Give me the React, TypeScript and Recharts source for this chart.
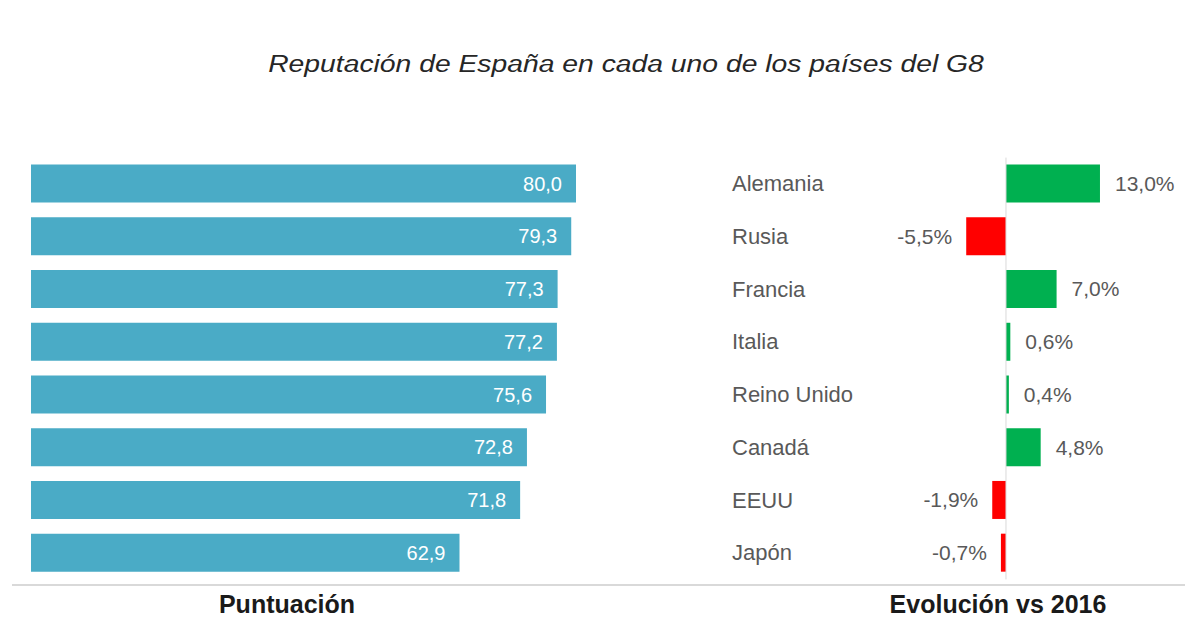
import React from 'react';
import { BarChart, Bar, XAxis, YAxis, Cell, LabelList, ReferenceLine } from 'recharts';

const countries = ['Alemania', 'Rusia', 'Francia', 'Italia', 'Reino Unido', 'Canadá', 'EEUU', 'Japón'];
const scores = [80.0, 79.3, 77.3, 77.2, 75.6, 72.8, 71.8, 62.9];
const changes = [13.0, -5.5, 7.0, 0.6, 0.4, 4.8, -1.9, -0.7];

const FONT = '"Liberation Sans", Arial, sans-serif';
const GREY = '#595959';

const fmt = (v: number) => v.toFixed(1).replace('.', ',');

const scoreData = countries.map((name, i) => ({ name, value: scores[i] }));
const changeData = countries.map((name, i) => ({ name, value: changes[i] }));

// country names sit in a fixed column left of the zero line
const CountryLabel = ({ y, height, value }: any) => (
  <text x={732} y={y + height / 2} dy="0.35em" textAnchor="start" fill={GREY} fontSize={22} fontFamily={FONT}>
    {value}
  </text>
);

const ChangeLabel = ({ x, y, width, height, value }: any) => {
  const left = Math.min(x, x + width);
  const right = Math.max(x, x + width);
  const neg = value < 0;
  return (
    <text
      x={neg ? left - 14 : right + 15}
      y={y + height / 2}
      dy="0.35em"
      textAnchor={neg ? 'end' : 'start'}
      fill={GREY}
      fontSize={21}
      fontFamily={FONT}
    >
      {fmt(value) + '%'}
    </text>
  );
};

const App: React.FC = () => {
  return (
    <div style={{ position: 'absolute', left: 0, top: 0, width: 1200, height: 639, background: '#fff', fontFamily: FONT }}>
      <div
        style={{
          position: 'absolute', left: 26, top: 51, width: 1200, textAlign: 'center',
          fontSize: 23, fontStyle: 'italic', color: '#262626',
          transform: 'scaleX(1.23)', transformOrigin: '600px 0',
        }}
      >
        Reputación de España en cada uno de los países del G8
      </div>

      {/* Puntuación */}
      <div style={{ position: 'absolute', left: 0, top: 0 }}>
        <BarChart
          width={600}
          height={639}
          layout="vertical"
          data={scoreData}
          margin={{ top: 157.6, right: 24, bottom: 59.6, left: 31 }}
        >
          <XAxis type="number" domain={[0, 80]} hide />
          <YAxis type="category" dataKey="name" hide />
          <Bar dataKey="value" fill="#4aabc6" barSize={38} isAnimationActive={false}>
            <LabelList dataKey="value" position="insideRight" offset={14} fill="#ffffff" fontSize={20} fontFamily={FONT} formatter={(v: any) => fmt(Number(v))} />
          </Bar>
        </BarChart>
      </div>

      {/* Evolución vs 2016 */}
      <div style={{ position: 'absolute', left: 0, top: 0 }}>
        <BarChart
          width={1200}
          height={639}
          layout="vertical"
          data={changeData}
          margin={{ top: 157.6, right: 92.8, bottom: 59.6, left: 962.6 }}
        >
          <XAxis type="number" domain={[-6, 14]} hide />
          <YAxis type="category" dataKey="name" hide />
          <ReferenceLine x={0} stroke="#d9d9d9" strokeWidth={1} />
          <Bar dataKey="value" barSize={38} isAnimationActive={false}>
            {changeData.map((d, i) => (
              <Cell key={`c-${i}`} fill={d.value >= 0 ? '#00b050' : '#ff0000'} />
            ))}
            <LabelList dataKey="name" content={<CountryLabel />} />
            <LabelList dataKey="value" content={<ChangeLabel />} />
          </Bar>
        </BarChart>
      </div>

      <div style={{ position: 'absolute', left: 12, top: 584, width: 1173, height: 2, background: '#d9d9d9' }} />
      <div style={{ position: 'absolute', left: 137, width: 300, top: 590, textAlign: 'center', fontSize: 25, fontWeight: 'bold', color: '#1a1a1a' }}>
        Puntuación
      </div>
      <div style={{ position: 'absolute', left: 848, width: 300, top: 590, textAlign: 'center', fontSize: 25, fontWeight: 'bold', color: '#1a1a1a' }}>
        Evolución vs 2016
      </div>
    </div>
  );
};

export default App;
